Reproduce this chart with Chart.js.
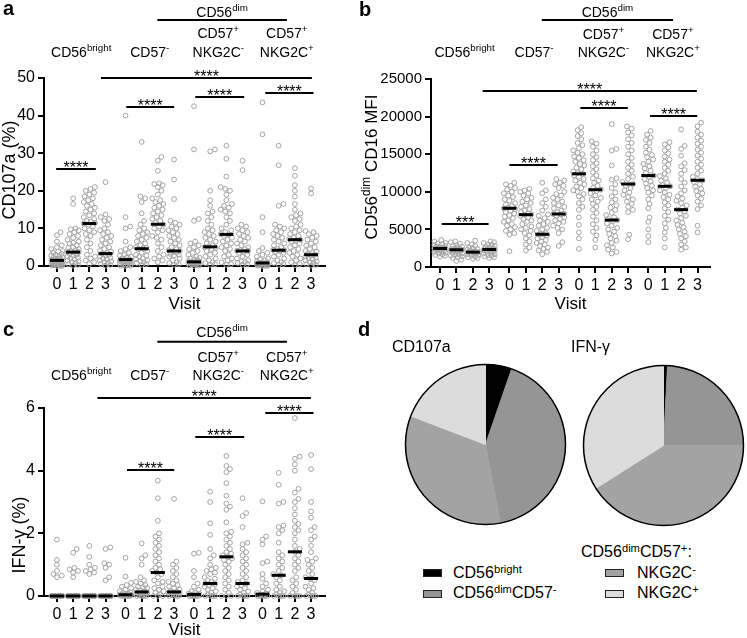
<!DOCTYPE html>
<html>
<head>
<meta charset="utf-8">
<script src="https://cdn.jsdelivr.net/npm/chart.js@4.4.0/dist/chart.umd.min.js"></script>
<style>
  body { margin: 0; background: #fff; }
  #fig { position: relative; width: 747px; height: 638px; overflow: hidden; font-family: "Liberation Sans", Arial, sans-serif; color: #000; }
  canvas { position: absolute; }
  .t { position: absolute; white-space: nowrap; line-height: 1; font-size: 16px; }
  .lt { font-weight: bold; font-size: 20px; }
  .s { font-size: 0.7em; position: relative; top: -0.45em; }
  .box { position: absolute; width: 17px; height: 6px; border: 1px solid #222; }
</style>
</head>
<body>
<div id="fig">
  <canvas id="ca" width="360" height="320" style="left:0;top:0"></canvas>
  <canvas id="cb" width="387" height="320" style="left:360px;top:0"></canvas>
  <canvas id="cc" width="360" height="318" style="left:0;top:320px"></canvas>
  <canvas id="pie1" width="163" height="163" style="left:404px;top:363px"></canvas>
  <canvas id="pie2" width="163" height="163" style="left:582px;top:364px"></canvas>

  <div class="t lt" style="left:3px;top:-2px">a</div>
  <div class="t lt" style="left:359px;top:-1px">b</div>
  <div class="t lt" style="left:3px;top:319px">c</div>
  <div class="t lt" style="left:358px;top:319px">d</div>

  <div class="t" style="left:392px;top:339px">CD107a</div>
  <div class="t" style="left:571px;top:339px">IFN-γ</div>

  <div class="box" style="left:423px;top:569px;background:#000"></div>
  <div class="box" style="left:423px;top:590px;background:#959595"></div>
  <div class="box" style="left:605px;top:569px;background:#a3a3a3"></div>
  <div class="box" style="left:605px;top:590px;background:#dcdcdc"></div>
  <div class="t" style="left:453px;top:565px">CD56<span class="s">bright</span></div>
  <div class="t" style="left:453px;top:585px">CD56<span class="s">dim</span>CD57<span class="s">-</span></div>
  <div class="t" style="left:581px;top:544px">CD56<span class="s">dim</span>CD57<span class="s">+</span>:</div>
  <div class="t" style="left:637px;top:565px">NKG2C<span class="s">-</span></div>
  <div class="t" style="left:637px;top:585px">NKG2C<span class="s">+</span></div>
</div>

<script>
const FONT = '"Liberation Sans", Arial, sans-serif';

const visits = ['0', '1', '2', '3'];
const subsets = ['CD56bright', 'CD56dimCD57-', 'CD56dimCD57+NKG2C-', 'CD56dimCD57+NKG2C+'];

// CD107a (%) per subset, one list per visit
const cd107aBright = [
  [9, 8.2, 6.5, 5.5, 5, 4.5, 4, 3.8, 3.5, 3.2, 3, 2.8, 2.5, 2.3, 2.2, 2, 1.9, 1.8, 1.6, 1.5, 1.4, 1.3, 1.2, 1.1, 1, 0.9, 0.8, 0.7, 0.6, 0.5, 0.5, 0.4, 0.3, 0.3, 0.2, 0.2, 0.1, 0.1, 0, 0],
  [18, 16.5, 10, 9.8, 9.5, 9, 8.5, 8, 7.5, 7, 6.5, 6.2, 6, 5.5, 5, 4.8, 4.5, 4.2, 4, 3.8, 3.7, 3.5, 3.2, 3, 2.8, 2.5, 2.2, 2, 1.8, 1.5, 1.2, 1, 0.8, 0.5, 0.3, 0.1],
  [21, 20.5, 20, 19.5, 19, 18.5, 18, 17.5, 17, 16.5, 16, 15.5, 15, 14.5, 14, 13.5, 13, 12.5, 12, 11.8, 11.5, 11.3, 11, 10.5, 10, 9.5, 9, 8.5, 8, 7, 6, 5, 4, 3, 2.5, 2, 1.5, 1, 0.5],
  [22.3, 13.7, 13, 12.5, 12, 11, 10, 9.5, 9, 8.5, 8, 7.5, 7, 6.5, 6, 5.5, 5, 4.5, 4, 3.8, 3.5, 3.3, 3, 2.8, 2.5, 2.2, 2, 1.8, 1.5, 1.2, 1, 0.8, 0.5, 0.3, 0.1]
];
const cd107aCD57neg = [
  [40, 13, 10.5, 10, 6.5, 5, 4.5, 4, 3.5, 3, 2.8, 2.5, 2.2, 2, 1.8, 1.6, 1.5, 1.3, 1.2, 1, 0.8, 0.6, 0.5, 0.4, 0.3, 0.2, 0.1, 0.1, 0],
  [33, 18.5, 18, 17, 14, 12, 11, 10, 9.5, 9, 8.5, 8, 7.5, 7, 6.5, 6, 5.5, 5, 4.8, 4.7, 4.5, 4, 3.5, 3, 2.8, 2.5, 2, 1.8, 1.5, 1.2, 1, 0.8, 0.5, 0.3],
  [29, 28, 25.3, 22, 21.8, 21.5, 21, 20, 19, 18, 17.5, 17, 16.5, 16, 15.5, 15, 14.5, 14, 13.5, 13, 12.5, 12, 11.5, 11, 10.5, 10, 9.5, 9, 8, 7.5, 7, 6, 5, 4, 3, 2.5, 2, 1.5, 1],
  [28.3, 23, 17.8, 12, 11.5, 11, 10.5, 10, 9.5, 9, 8.5, 8, 7.5, 7, 6.5, 6, 5.5, 5, 4.5, 4.2, 4, 3.8, 3.5, 3.2, 3, 2.8, 2.5, 2, 1.5, 1, 0.8, 0.5, 0.3]
];
const cd107aNKG2Cneg = [
  [42.5, 31, 12.5, 12, 6.5, 6, 5.5, 5, 4.5, 4, 3.5, 3, 2.5, 2.2, 2, 1.8, 1.5, 1.3, 1.2, 1.1, 1, 0.9, 0.8, 0.7, 0.6, 0.5, 0.4, 0.3, 0.2, 0.1, 0],
  [31, 30.5, 20, 17.5, 16, 14.5, 14, 13, 12, 11, 10, 9.5, 9, 8.5, 8, 7.5, 7, 6.5, 6, 5.5, 5.2, 5, 4.8, 4.5, 4, 3.5, 3, 2.5, 2, 1.5, 1, 0.8, 0.5, 0.3],
  [32, 28.5, 23.8, 21, 20.5, 20, 19, 17.5, 16.5, 16, 15.5, 15, 14.5, 14, 13, 12, 11, 10, 9.5, 9, 8.5, 8.4, 8, 7.5, 7, 6.5, 6, 5.5, 5, 4.5, 4, 3, 2.5, 2, 1.5, 1, 0.5, 0.3],
  [28, 25.5, 11, 10.5, 10, 9.5, 9, 8.5, 8, 7.5, 7, 6.5, 6, 5.5, 5, 4.5, 4.2, 4.1, 4, 3.8, 3.5, 3, 2.5, 2, 1.5, 1.2, 1, 0.8, 0.5, 0.3]
];
const cd107aNKG2Cpos = [
  [43.5, 35, 13, 9, 4.8, 4, 3.5, 3, 2.5, 2, 1.8, 1.5, 1.2, 1, 0.9, 0.8, 0.7, 0.6, 0.5, 0.4, 0.3, 0.3, 0.2, 0.2, 0.1, 0.1, 0, 0],
  [32, 26.8, 16.5, 16, 11, 10.5, 10, 9.5, 9, 8.5, 8, 7.5, 7, 6.5, 6, 5.5, 5, 4.5, 4.3, 4.2, 4, 3.8, 3.5, 3, 2.5, 2, 1.5, 1, 0.8, 0.5, 0.3],
  [26, 24, 21.5, 20, 18.5, 16.5, 15, 14, 13.5, 13, 12.5, 12, 11, 10.5, 10, 9.5, 9, 8.5, 8, 7.5, 7.2, 7, 6.8, 6.5, 6, 5.5, 5, 4.5, 4, 3.5, 3, 2.5, 2, 1.5, 1, 0.5, 0.2],
  [20.6, 19.3, 9.3, 9, 8.5, 8, 7.5, 7, 6.5, 6, 5.5, 5, 4.5, 4, 3.8, 3.5, 3.2, 3, 2.8, 2.5, 2.2, 2, 1.8, 1.5, 1.2, 1, 0.8, 0.5, 0.3, 0.1]
];
const cd107aMedians = [1.5, 3.7, 11.3, 3.3, 1.7, 4.6, 11.1, 4.0, 1.1, 5.1, 8.4, 4.0, 0.8, 4.2, 7.0, 3.0];

// CD56dim CD16 MFI
const cd16Bright = [
  [3600, 3400, 3200, 3100, 3000, 2900, 2800, 2700, 2650, 2600, 2550, 2500, 2470, 2450, 2400, 2350, 2300, 2250, 2200, 2100, 2000, 1900, 1800, 1700, 1600, 1500, 1400],
  [3400, 3300, 3100, 2900, 2800, 2700, 2600, 2500, 2400, 2350, 2300, 2290, 2250, 2200, 2100, 2000, 1900, 1800, 1700, 1600, 1500, 1400, 1300, 1200, 1000, 800],
  [3500, 3200, 3000, 2800, 2600, 2500, 2400, 2300, 2200, 2100, 2000, 1975, 1950, 1900, 1850, 1800, 1700, 1600, 1500, 1400, 1300, 1200, 1100],
  [3400, 3300, 3200, 3000, 2900, 2800, 2700, 2600, 2500, 2400, 2350, 2330, 2300, 2250, 2200, 2100, 2000, 1900, 1800, 1700, 1600, 1500, 1400, 1300, 1200]
];
const cd16CD57neg = [
  [11200, 11000, 10800, 10500, 10300, 10000, 9800, 9500, 9300, 9000, 8800, 8500, 8300, 8100, 7900, 7800, 7700, 7500, 7300, 7100, 6900, 6700, 6500, 6200, 6000, 5700, 5500, 5300, 5000, 4800, 4500, 4300, 2100],
  [10400, 10200, 10000, 9800, 9500, 9200, 9000, 8700, 8500, 8200, 8000, 7700, 7500, 7300, 7100, 7000, 6960, 6800, 6600, 6400, 6200, 6000, 5700, 5400, 5200, 5000, 4800, 4500, 4200, 3800, 3400, 3000, 2600, 2200],
  [11200, 10200, 9800, 9000, 8500, 8000, 7500, 7000, 6800, 6500, 6200, 6000, 5700, 5500, 5200, 5000, 4800, 4500, 4400, 4350, 4300, 4200, 4000, 3800, 3600, 3400, 3200, 3000, 2800, 2600, 2400, 2200, 2000, 1700],
  [11700, 11500, 11200, 11000, 10800, 10500, 10000, 9700, 9500, 9200, 9000, 8700, 8500, 8200, 8000, 7800, 7500, 7300, 7100, 7050, 7000, 6800, 6600, 6400, 6200, 6000, 5800, 5500, 5200, 5000, 4500, 3300, 2800]
];
const cd16NKG2Cneg = [
  [18600, 18200, 17800, 17400, 17000, 16500, 16200, 15800, 15500, 15200, 15000, 14700, 14500, 14200, 14000, 13700, 13500, 13200, 13000, 12700, 12500, 12390, 12200, 12000, 11700, 11500, 11200, 11000, 10700, 10500, 10200, 10000, 9700, 9400, 9000, 8500, 8000, 7600, 6600, 5600, 4600, 3800, 2400],
  [16700, 16400, 16000, 15500, 15000, 14600, 14200, 13800, 13400, 13000, 12600, 12200, 11800, 11500, 11200, 10800, 10500, 10280, 10100, 9800, 9500, 9200, 9000, 8700, 8400, 8000, 7600, 7200, 6700, 6200, 5700, 5200, 4700, 4200, 3600, 2600],
  [19000, 15700, 15500, 13500, 11800, 11600, 11000, 10500, 9900, 9400, 9000, 8600, 8200, 7900, 7600, 7200, 6900, 6600, 6400, 6240, 6100, 5800, 5500, 5200, 5000, 4700, 4400, 4100, 3800, 3500, 3200, 2900, 2600, 2300, 2000, 1800],
  [18700, 18400, 17900, 17500, 17000, 16500, 16000, 15500, 15000, 14500, 14000, 13600, 13200, 12800, 12400, 12000, 11700, 11300, 11040, 10800, 10500, 10200, 9900, 9600, 9300, 9000, 8700, 8400, 8000, 7600, 7300, 4300, 3700]
];
const cd16NKG2Cpos = [
  [18100, 17600, 17200, 16900, 16500, 16000, 15600, 15200, 14900, 14600, 14300, 14000, 13700, 13400, 13100, 12800, 12500, 12160, 12000, 11700, 11400, 11100, 10800, 10500, 10200, 9900, 9500, 9000, 8400, 7800, 6600, 6000, 5000, 4100, 3300],
  [16600, 16300, 15900, 15500, 15100, 14700, 14300, 14000, 13600, 13200, 12800, 12400, 12100, 11800, 11500, 11200, 10900, 10730, 10500, 10200, 9900, 9600, 9300, 9000, 8600, 8200, 7800, 7300, 6800, 6300, 5800, 5200, 4600, 3800, 2600],
  [18300, 16100, 15700, 14800, 13800, 13400, 12900, 12400, 11700, 11200, 10700, 10200, 9800, 9400, 9100, 8800, 8500, 8200, 7900, 7630, 7400, 7100, 6800, 6500, 6200, 5900, 5600, 5300, 5000, 4700, 4400, 4100, 3800, 3400, 3000, 2600, 2300],
  [19200, 18700, 18000, 17600, 17200, 16800, 16400, 16000, 15600, 15200, 14800, 14400, 14000, 13600, 13200, 12800, 12400, 12000, 11700, 11530, 11300, 11000, 10700, 10400, 10100, 9800, 9500, 9100, 8700, 8200, 7700, 5500, 4600]
];
const cd16Medians = [2470, 2290, 1975, 2330, 7810, 6960, 4350, 7050, 12390, 10280, 6240, 11040, 12160, 10730, 7630, 11530];

// IFN-γ (%)
const ifngBright = [
  [1.8, 1.15, 1.0, 0.8, 0.7, 0.65, 0.6, 0, 0, 0, 0, 0, 0, 0, 0, 0, 0, 0, 0, 0, 0, 0, 0, 0, 0],
  [1.5, 1.38, 0.9, 0.85, 0.8, 0.75, 0.6, 0, 0, 0, 0, 0, 0, 0, 0, 0, 0, 0, 0, 0, 0, 0, 0, 0],
  [1.6, 1.25, 1.0, 0.9, 0.85, 0.8, 0.75, 0.7, 0, 0, 0, 0, 0, 0, 0, 0, 0, 0, 0, 0, 0, 0, 0, 0],
  [1.55, 1.5, 1.05, 1.0, 0.9, 0.6, 0.5, 0, 0, 0, 0, 0, 0, 0, 0, 0, 0, 0, 0, 0, 0, 0, 0]
];
const ifngCD57neg = [
  [1.22, 0.62, 0.42, 0.35, 0.3, 0.25, 0.2, 0.15, 0.12, 0.1, 0.08, 0.06, 0.05, 0.04, 0.03, 0.02, 0.01, 0, 0, 0, 0, 0, 0],
  [1.68, 1.3, 1.2, 1.0, 0.6, 0.5, 0.45, 0.4, 0.35, 0.3, 0.28, 0.25, 0.2, 0.18, 0.15, 0.13, 0.12, 0.1, 0.08, 0.06, 0.05, 0.04, 0.02, 0, 0, 0, 0],
  [3.68, 3.12, 2.4, 2.0, 1.9, 1.8, 1.7, 1.6, 1.5, 1.4, 1.3, 1.2, 1.1, 1.0, 0.9, 0.85, 0.8, 0.75, 0.7, 0.6, 0.5, 0.45, 0.4, 0.3, 0.25, 0.2, 0.15, 0.1, 0.05, 0, 0, 0],
  [3.1, 1.1, 1.0, 0.9, 0.8, 0.7, 0.6, 0.5, 0.45, 0.4, 0.35, 0.3, 0.25, 0.2, 0.15, 0.13, 0.12, 0.1, 0.08, 0.05, 0.03, 0, 0, 0, 0]
];
const ifngNKG2Cneg = [
  [1.38, 1.35, 0.8, 0.6, 0.4, 0.3, 0.2, 0.15, 0.1, 0.08, 0.06, 0.05, 0.04, 0.03, 0.02, 0, 0, 0, 0, 0],
  [3.33, 3.0, 2.32, 1.95, 1.5, 1.3, 1.2, 1.0, 0.9, 0.85, 0.8, 0.75, 0.7, 0.6, 0.55, 0.5, 0.45, 0.4, 0.38, 0.35, 0.3, 0.25, 0.2, 0.15, 0.1, 0.05, 0, 0, 0, 0],
  [4.47, 4.15, 4.05, 3.95, 3.6, 3.2, 2.95, 2.85, 2.75, 2.35, 2.05, 2.0, 1.9, 1.8, 1.7, 1.6, 1.5, 1.4, 1.35, 1.3, 1.25, 1.2, 1.15, 1.1, 1.0, 0.9, 0.8, 0.7, 0.6, 0.5, 0.4, 0.3, 0.2, 0.1, 0, 0, 0],
  [3.12, 2.65, 2.55, 2.2, 1.7, 1.65, 1.5, 1.4, 1.3, 1.2, 1.1, 1.0, 0.9, 0.8, 0.7, 0.6, 0.5, 0.45, 0.4, 0.35, 0.3, 0.25, 0.2, 0.15, 0.1, 0.05, 0, 0, 0, 0]
];
const ifngNKG2Cpos = [
  [3.02, 1.9, 1.8, 1.65, 1.1, 1.05, 0.7, 0.55, 0.4, 0.3, 0.2, 0.15, 0.1, 0.08, 0.05, 0.03, 0, 0, 0, 0, 0],
  [3.93, 3.55, 3.0, 2.95, 2.25, 2.2, 2.1, 2.0, 1.7, 1.4, 1.3, 1.2, 1.1, 1.0, 0.9, 0.8, 0.7, 0.66, 0.6, 0.5, 0.4, 0.3, 0.2, 0.15, 0.1, 0.05, 0, 0, 0, 0],
  [5.68, 4.45, 4.38, 4.2, 4.0, 3.42, 3.3, 3.1, 3.0, 2.8, 2.6, 2.4, 2.3, 2.2, 2.1, 2.0, 1.8, 1.6, 1.5, 1.41, 1.3, 1.2, 1.1, 1.0, 0.9, 0.8, 0.6, 0.5, 0.4, 0.3, 0.2, 0.1, 0, 0, 0, 0],
  [4.5, 4.05, 3.0, 2.7, 2.5, 2.2, 2.1, 1.9, 1.8, 1.6, 1.4, 1.2, 1.15, 1.1, 1.0, 0.9, 0.8, 0.7, 0.6, 0.56, 0.5, 0.4, 0.3, 0.25, 0.2, 0.1, 0.05, 0, 0, 0, 0]
];
const ifngMedians = [0, 0, 0, 0, 0.04, 0.13, 0.75, 0.13, 0.05, 0.4, 1.25, 0.4, 0.06, 0.66, 1.41, 0.56];

// pie shares (%), order = subsets
const cd107aShares = [5.3, 41.7, 33.8, 19.2];
const ifngShares = [0.8, 24.2, 41.0, 34.0];
const pieColors = ['#000000', '#959595', '#a3a3a3', '#dcdcdc'];

// x position of each column: 4 visits per subset, gap between subsets
const GROUP_STEP = 4.23;
const xPositions = [];
for (let g = 0; g < 4; g++) for (let v = 0; v < 4; v++) xPositions.push(g * GROUP_STEP + v);

// group headers (text, 'sup' for superscript)
const headBottom = [
  [['CD56'], ['bright', 'sup']],
  [['CD57'], ['-', 'sup']],
  [['NKG2C'], ['-', 'sup']],
  [['NKG2C'], ['+', 'sup']]
];
const headTop = [null, null, [['CD57'], ['+', 'sup']], [['CD57'], ['+', 'sup']]];
const headDim = [['CD56'], ['dim', 'sup']];

function segFont(size, kind) { return (kind ? size * 0.7 : size) + 'px ' + FONT; }
function drawRich(ctx, segs, x, y, size, align) {
  let w = 0;
  segs.forEach(([t, k]) => { ctx.font = segFont(size, k); w += ctx.measureText(t).width; });
  let cx = align === 'center' ? x - w / 2 : x;
  ctx.textAlign = 'left';
  ctx.textBaseline = 'alphabetic';
  segs.forEach(([t, k]) => {
    ctx.font = segFont(size, k);
    ctx.fillText(t, cx, y + (k === 'sup' ? -size * 0.42 : 0));
    cx += ctx.measureText(t).width;
  });
}

// simple beeswarm: spread points sideways (in pixels) so circles do not pile up
function swarm(values, center, pxX, pxY) {
  const offs = [0, 1.2, -1.2, 2.4, -2.4, 3.6, -3.6, 4.8, -4.8, 5.6, -5.6];
  const D = 4.6;
  const placed = [];
  const out = [];
  values.slice().sort((a, b) => a - b).forEach(v => {
    const py = v * pxY;
    let pick = 0, bestD = -1;
    for (const o of offs) {
      let m = Infinity;
      placed.forEach(p => { m = Math.min(m, Math.hypot(p[0] - o, p[1] - py)); });
      if (m >= D) { pick = o; bestD = m; break; }
      if (m > bestD) { bestD = m; pick = o; }
    }
    placed.push([pick, py]);
    out.push({ x: center + pick / pxX, y: v });
  });
  return out;
}

function decor(p) {
  return {
    id: 'decor',
    afterDraw(chart) {
      const { ctx, scales: { x, y }, chartArea } = chart;
      ctx.save();
      ctx.fillStyle = '#000';
      ctx.strokeStyle = '#000';
      ctx.lineWidth = 2;
      // significance bars
      p.brackets.forEach(([x1, x2, v, label]) => {
        const py = Math.round(y.getPixelForValue(v));
        const a = x.getPixelForValue(x1), b = x.getPixelForValue(x2);
        ctx.beginPath(); ctx.moveTo(a, py); ctx.lineTo(b, py); ctx.stroke();
        ctx.font = '16px ' + FONT;
        ctx.textAlign = 'center';
        ctx.textBaseline = 'alphabetic';
        ctx.fillText(label, (a + b) / 2, py + 4);
      });
      // group headers
      for (let g = 0; g < 4; g++) {
        const cx = x.getPixelForValue(g * GROUP_STEP + 1.5);
        drawRich(ctx, headBottom[g], cx, p.rows.r2, 14, 'center');
        if (headTop[g]) drawRich(ctx, headTop[g], cx, p.rows.r1, 14, 'center');
      }
      const l1 = x.getPixelForValue(6.2), l2 = x.getPixelForValue(14.2);
      ctx.beginPath(); ctx.moveTo(l1, p.rows.line); ctx.lineTo(l2, p.rows.line); ctx.stroke();
      drawRich(ctx, headDim, (l1 + l2) / 2, p.rows.dim, 14, 'center');
      // axis titles
      ctx.save();
      ctx.translate(p.titleX, p.titleY);
      ctx.rotate(-Math.PI / 2);
      drawRich(ctx, p.title, 0, 0, p.titleSize, 'center');
      ctx.restore();
      drawRich(ctx, [['Visit']], (chartArea.left + chartArea.right) / 2, p.visitY, 17, 'center');
      ctx.restore();
    }
  };
}

function scatterPanel(p) {
  const el = document.getElementById(p.canvas);
  const pxX = (el.width - p.right - p.yw) / (p.xmax - p.xmin);
  const pxY = (el.height - p.xh - p.top) / p.ymax;
  const pts = [];
  p.cols.forEach((subset, g) => subset.forEach((vals, v) => {
    pts.push(...swarm(vals, xPositions[g * 4 + v], pxX, pxY));
  }));
  const axisGrid = { drawOnChartArea: false, color: '#000', lineWidth: 2, tickLength: 6 };
  const axisBorder = { color: '#000', width: 2 };
  new Chart(el, {
    type: 'scatter',
    data: {
      datasets: [
        { data: p.medians.map((m, i) => ({ x: xPositions[i], y: m })), pointStyle: 'line',
          pointRadius: 7, pointBorderWidth: 3, pointBorderColor: '#000', clip: false },
        { data: pts, pointRadius: 2.4, pointBorderWidth: 1, pointBorderColor: '#a3a3a3',
          pointBackgroundColor: 'rgba(255,255,255,0)', clip: false }
      ]
    },
    options: {
      responsive: false,
      animation: false,
      layout: { padding: { left: 0, top: p.top, right: p.right, bottom: 0 } },
      plugins: { legend: { display: false }, tooltip: { enabled: false } },
      scales: {
        x: {
          type: 'linear', min: p.xmin, max: p.xmax,
          afterBuildTicks: s => { s.ticks = xPositions.map(v => ({ value: v })); },
          afterFit: s => { s.height = p.xh; },
          grid: axisGrid, border: axisBorder,
          ticks: { color: '#000', font: { family: FONT, size: 16 }, padding: 3, autoSkip: false,
                   maxRotation: 0, callback: (v, i) => visits[i % 4] }
        },
        y: {
          min: 0, max: p.ymax,
          afterFit: s => { s.width = p.yw; },
          grid: axisGrid, border: axisBorder,
          ticks: { stepSize: p.step, color: '#000', font: { family: FONT, size: p.yfont }, padding: 3,
                   callback: v => String(v) }
        }
      }
    },
    plugins: [decor(p)]
  });
}

scatterPanel({
  canvas: 'ca', cols: [cd107aBright, cd107aCD57neg, cd107aNKG2Cneg, cd107aNKG2Cpos], medians: cd107aMedians,
  ymax: 50, step: 10, xmin: -0.8, xmax: 16.55, top: 78, right: 35, xh: 54, yw: 44, yfont: 16,
  title: [['CD107a (%)']], titleSize: 18, titleX: 15, titleY: 170, visitY: 309,
  rows: { dim: 16.7, line: 20, r1: 38.3, r2: 56.7 },
  brackets: [[2.72, 15.74, 50, '****'], [-0.05, 2.4, 25.7, '****'], [4.28, 7.24, 42.2, '****'],
             [8.54, 11.56, 44.9, '****'], [12.86, 15.84, 46, '****']]
});

scatterPanel({
  canvas: 'cb', cols: [cd16Bright, cd16CD57neg, cd16NKG2Cneg, cd16NKG2Cpos], medians: cd16Medians,
  ymax: 25000, step: 5000, xmin: -0.55, xmax: 16.45, top: 79, right: 37, xh: 53, yw: 71, yfont: 15,
  title: [['CD56'], ['dim', 'sup'], [' CD16 MFI']], titleSize: 17, titleX: 17, titleY: 167, visitY: 309,
  rows: { dim: 16.7, line: 20, r1: 39.3, r2: 56.7 },
  brackets: [[2.6, 15.65, 23400, '****'], [0.1, 2.96, 5700, '***'], [4.23, 7.17, 13500, '****'],
             [8.55, 11.44, 21100, '****'], [12.8, 15.67, 20100, '****']]
});

scatterPanel({
  canvas: 'cc', cols: [ifngBright, ifngCD57neg, ifngNKG2Cneg, ifngNKG2Cpos], medians: ifngMedians,
  ymax: 6, step: 2, xmin: -0.8, xmax: 16.55, top: 88, right: 35, xh: 42, yw: 44, yfont: 16,
  title: [['IFN-γ (%)']], titleSize: 18, titleX: 25, titleY: 215, visitY: 315,
  rows: { dim: 16.7, line: 21.7, r1: 41.7, r2: 60 },
  brackets: [[2.5, 15.68, 6.32, '****'], [4.32, 7.24, 4.02, '****'], [8.54, 11.56, 5.06, '****'],
             [12.86, 15.84, 5.84, '****']]
});

const ring = {
  id: 'ring',
  afterDatasetsDraw(chart) {
    const arc = chart.getDatasetMeta(0).data[0];
    const ctx = chart.ctx;
    ctx.save();
    ctx.strokeStyle = '#000';
    ctx.lineWidth = 1.5;
    ctx.beginPath();
    ctx.arc(arc.x, arc.y, arc.outerRadius, 0, Math.PI * 2);
    ctx.stroke();
    ctx.restore();
  }
};

function piePanel(id, shares) {
  new Chart(document.getElementById(id), {
    type: 'pie',
    data: { labels: subsets, datasets: [{ data: shares, backgroundColor: pieColors, borderColor: pieColors, borderWidth: 1 }] },
    options: {
      responsive: false, animation: false,
      layout: { padding: 1 },
      plugins: { legend: { display: false }, tooltip: { enabled: false } }
    },
    plugins: [ring]
  });
}
piePanel('pie1', cd107aShares);
piePanel('pie2', ifngShares);
</script>
</body>
</html>
